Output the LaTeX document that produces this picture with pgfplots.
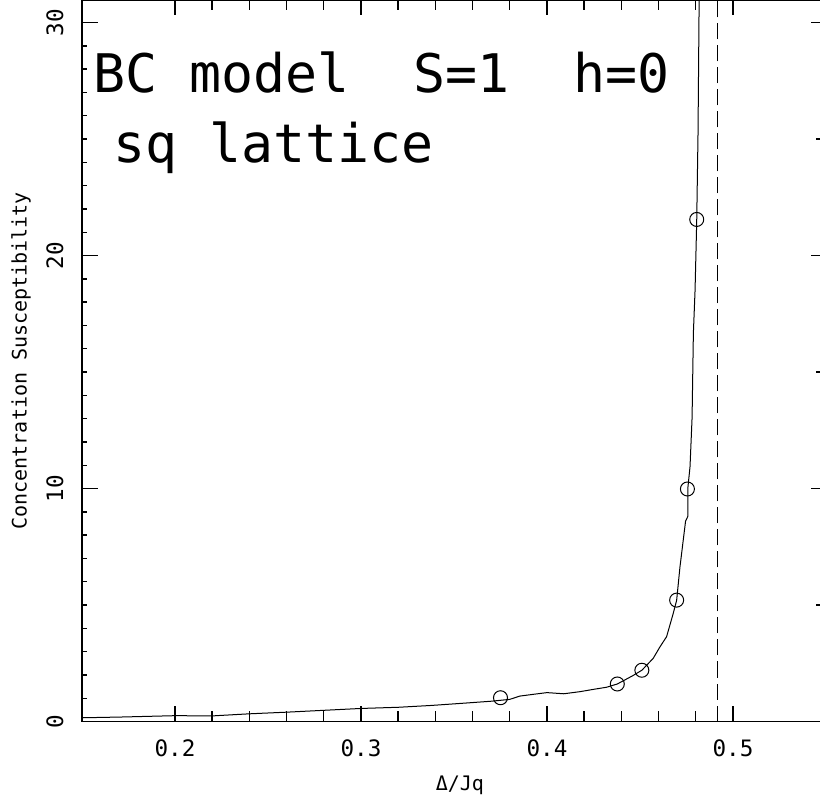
\documentclass[border=0pt]{standalone}
\usepackage{fontspec}
\setmainfont{DejaVu Sans Mono}
\usepackage{pgfplots}
\pgfplotsset{compat=1.18}
\begin{document}
\begin{tikzpicture}
\pgfplotsset{common/.style={scale only axis, width=372pt, height=360.75pt,
  xmin=0.15, xmax=0.55, ymin=0, ymax=30.97,
  axis line style={line width=0.7pt},
  tick style={line width=0.7pt, black},
  tick align=inside, major tick length=7.5pt,
  /pgf/number format/assume math mode=true,
  tick label style={font=\fontsize{11.3}{13}\selectfont},
  label style={font=\fontsize{11.3}{13}\selectfont}}}
\begin{axis}[common,
  xtick pos=both, xticklabel pos=bottom,
  ytick pos=right, yticklabel pos=left,
  xtick={0.2,0.3,0.4,0.5}, minor x tick num=4,
  ytick={0,10,20,30}, minor y tick num=1,
  minor tick length=5pt,
  xticklabel style={yshift=-5.5pt},
  yticklabel style={rotate=90, anchor=south, yshift=5.7pt},
  xlabel={Δ/Jq}, ylabel={Concentration Susceptibility},
  every axis x label/.style={at={(axis description cs:0.508,-0.089)}, anchor=center},
  every axis y label/.style={at={(axis description cs:-0.082,0.5)}, rotate=90, anchor=center},
  clip=true]
\coordinate (bl) at (rel axis cs:0,0);
\coordinate (tl) at (rel axis cs:0,1);
\addplot[black, line width=0.5pt] coordinates {
(0.15,0.16) (0.17,0.19) (0.20,0.25) (0.22,0.24) (0.24,0.33) (0.26,0.40)
(0.28,0.48) (0.30,0.56) (0.32,0.61) (0.338,0.69) (0.356,0.79) (0.37,0.87)
(0.375,0.91) (0.38,0.95) (0.3853,1.09) (0.393,1.17) (0.40,1.24) (0.409,1.19)
(0.4177,1.28) (0.425,1.38) (0.432,1.47) (0.4378,1.61) (0.4462,1.97)
(0.451,2.2) (0.4571,2.71) (0.4607,3.2) (0.4643,3.64) (0.4679,4.65)
(0.4697,5.2) (0.4715,6.64) (0.4745,8.6) (0.4757,8.8) (0.4757,10.0)
(0.4769,10.94) (0.478,13.04) (0.4787,16.67) (0.4796,18.5) (0.4805,21.5)
(0.4812,25.25) (0.4818,31)};
\addplot[only marks, mark=o, mark size=3.5pt, mark options={line width=0.5pt, black}] coordinates {
(0.375,1.02) (0.4378,1.61) (0.451,2.2) (0.4697,5.21) (0.4755,9.98) (0.4805,21.55)};
\addplot[black, line width=0.5pt, dash pattern=on 8pt off 3pt] coordinates {(0.4919,0) (0.4919,30.97)};
\node[anchor=base west, inner sep=0pt, font=\fontsize{26.6}{30}\selectfont] at (axis cs:0.1559,27) {BC~model~~S=1~~h=0};
\node[anchor=base west, inner sep=0pt, font=\fontsize{26.6}{30}\selectfont] at (axis cs:0.1667,24) {sq~lattice};
\end{axis}
\begin{axis}[common, xtick=\empty, ytick={0,10,20,30}, ytick pos=left,
  yticklabels={}, minor y tick num=9, minor tick length=2.5pt, major tick length=8pt]
\end{axis}
\pgfresetboundingbox
\useasboundingbox ([xshift=-41pt,yshift=-41pt]bl) rectangle ([xshift=369pt]tl);
\end{tikzpicture}
\end{document}
